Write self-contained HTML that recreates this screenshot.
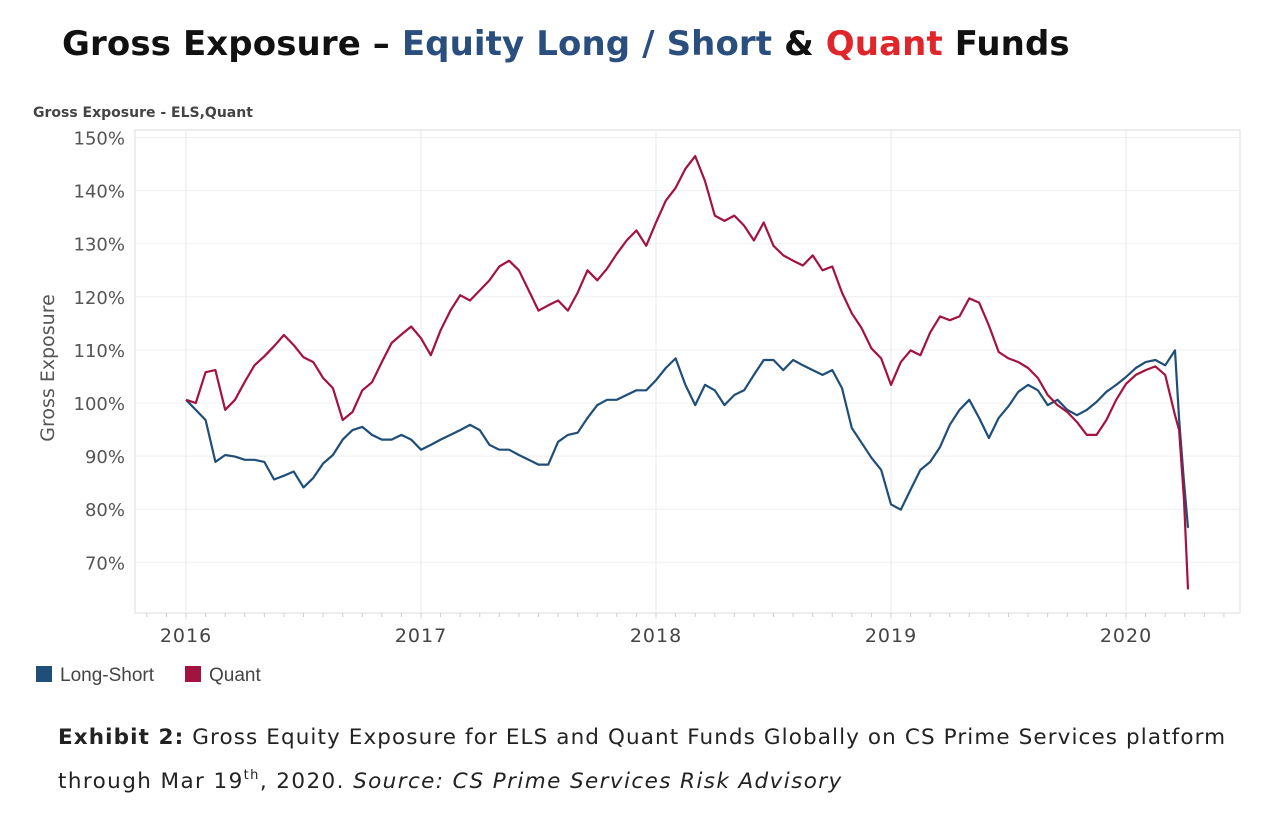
<!DOCTYPE html>
<html><head><meta charset="utf-8"><style>
body{margin:0;width:1280px;height:825px;background:#fff;font-family:"Liberation Sans",sans-serif;overflow:hidden}
</style></head><body>
<svg width="1280" height="825" xmlns="http://www.w3.org/2000/svg" font-family="Liberation Sans, sans-serif">
<text x="62" y="55" font-size="34" font-weight="bold" font-family="DejaVu Sans, sans-serif" style="letter-spacing:0.1px"><tspan fill="#111">Gross Exposure – </tspan><tspan fill="#2a4f7f">Equity Long / Short</tspan><tspan fill="#111"> &amp; </tspan><tspan fill="#e0262b">Quant</tspan><tspan fill="#111"> Funds</tspan></text>
<text x="33" y="117" font-size="14" font-weight="bold" fill="#444" font-family="DejaVu Sans, sans-serif">Gross Exposure - ELS,Quant</text>
<rect x="135" y="130" width="1105" height="483" fill="none" stroke="#ddd"/>
<g id="grid"></g>
<g id="ylab" font-size="18" fill="#555" text-anchor="end" font-family="DejaVu Sans, sans-serif"></g>
<g id="xlab" font-size="19" fill="#444" text-anchor="middle" font-family="DejaVu Sans, sans-serif" style="letter-spacing:1px"></g>
<text transform="translate(54,368) rotate(-90)" font-size="19" fill="#555" text-anchor="middle" font-family="DejaVu Sans, sans-serif">Gross Exposure</text>
<g id="lines"></g>
<rect x="36" y="666" width="16" height="16" fill="#1f4e79"/>
<text x="60" y="681" font-size="19" fill="#444">Long-Short</text>
<rect x="185" y="666" width="16" height="16" fill="#a4123f"/>
<text x="209" y="681" font-size="19" fill="#444">Quant</text>
<text x="58" y="744" font-size="21.5" fill="#222" font-family="DejaVu Sans, sans-serif" style="letter-spacing:1.1px"><tspan font-weight="bold">Exhibit 2:</tspan> Gross Equity Exposure for ELS and Quant Funds Globally on CS Prime Services platform</text>
<text x="58" y="788" font-size="21.5" fill="#222" font-family="DejaVu Sans, sans-serif" style="letter-spacing:1.4px">through Mar 19<tspan font-size="13" dy="-9">th</tspan><tspan dy="9">, 2020.  </tspan><tspan font-style="italic">Source: CS Prime Services Risk Advisory</tspan></text>
</svg>
<script>
const yTicks=[70,80,90,100,110,120,130,140,150];
const yTickLabels=["70%","80%","90%","100%","110%","120%","130%","140%","150%"];
const xTicks=[2016,2017,2018,2019,2020];
const xTickLabels=["2016","2017","2018","2019","2020"];
const quant=[100.6,100,105.8,106.2,98.7,100.6,104,107.1,108.8,110.7,112.8,110.9,108.6,107.7,104.7,102.8,96.8,98.3,102.4,103.9,107.7,111.3,112.9,114.4,112.2,109,113.7,117.4,120.3,119.3,121.2,123.1,125.7,126.8,125,121.2,117.4,118.4,119.3,117.4,120.8,125,123.1,125.3,128.1,130.6,132.5,129.6,134,138.1,140.5,144.1,146.5,141.8,135.3,134.3,135.3,133.4,130.6,134,129.6,127.8,126.8,125.9,127.8,125,125.7,120.8,116.9,114.1,110.3,108.4,103.4,107.7,109.9,109,113.3,116.3,115.6,116.3,119.7,118.9,114.6,109.6,108.4,107.7,106.6,104.7,101.5,99.6,98.3,96.4,94,94,96.8,100.6,103.6,105.3,106.2,106.9,105.3,97.7];
const quantTailDates=[2020.226,2020.247,2020.264];
const quantTail=[94.9,81.8,64.9];
const longShort=[100.6,98.7,96.8,88.9,90.2,89.9,89.3,89.3,88.9,85.6,86.3,87.1,84.1,85.9,88.6,90.2,93.1,94.9,95.5,94,93.1,93.1,94,93.1,91.2,92.1,93.1,94,94.9,95.9,94.9,92.1,91.2,91.2,90.2,89.3,88.4,88.4,92.7,94,94.4,97.2,99.6,100.6,100.6,101.5,102.4,102.4,104.3,106.6,108.4,103.4,99.6,103.4,102.4,99.6,101.5,102.4,105.3,108.1,108.1,106.2,108.1,107.1,106.2,105.3,106.2,102.8,95.3,92.5,89.7,87.4,80.9,79.9,83.7,87.4,88.9,91.7,95.9,98.7,100.6,97.2,93.4,97.2,99.4,102.1,103.4,102.4,99.6,100.6,98.7,97.7,98.7,100.2,102.1,103.4,104.9,106.6,107.7,108.1,107.1,109.9];
const longShortTailDates=[2020.226,2020.245,2020.264];
const longShortTail=[97,86,76.5];
const NS="http://www.w3.org/2000/svg";
function xs(yr){return 186+(yr-2016)*235;}
function ys(v){return 403-(v-100)*5.31;}
const grid=document.getElementById('grid'),yl=document.getElementById('ylab'),xl=document.getElementById('xlab'),lines=document.getElementById('lines');
yTicks.forEach((t,i)=>{
 const l=document.createElementNS(NS,'line');
 
 
 l.setAttribute('x1',135);l.setAttribute('x2',1240);l.setAttribute('y1',ys(t));l.setAttribute('y2',ys(t));l.setAttribute('stroke','#efefef');grid.appendChild(l);
 const tx=document.createElementNS(NS,'text');
 
 
 tx.setAttribute('x',125);tx.setAttribute('y',ys(t)+7);tx.textContent=yTickLabels[i];yl.appendChild(tx);
});
xTicks.forEach((t,i)=>{
 const l=document.createElementNS(NS,'line');
 
 
 l.setAttribute('x1',xs(t));l.setAttribute('x2',xs(t));l.setAttribute('y1',130);l.setAttribute('y2',620);l.setAttribute('stroke','#eaeaea');grid.appendChild(l);
 const tx=document.createElementNS(NS,'text');
 
 
 tx.setAttribute('x',xs(t));tx.setAttribute('y',642);tx.textContent=xTickLabels[i];xl.appendChild(tx);
});
for(let m=-2;m<54;m++){const x=xs(2016+m/12);if(x<137||x>1238)continue;
 const l=document.createElementNS(NS,'line');
 
 
 l.setAttribute('x1',x);l.setAttribute('x2',x);l.setAttribute('y1',613);l.setAttribute('y2',617);l.setAttribute('stroke','#ccc');grid.appendChild(l);}
function draw(vals,tailD,tailV,color,name){
 const pts=vals.map((v,i)=>[xs(2016+i/24),ys(v)]);
 tailD.forEach((d,i)=>pts.push([xs(d),ys(tailV[i])]));
 const p=document.createElementNS(NS,'polyline');
 
 
 p.setAttribute('points',pts.map(q=>q[0].toFixed(1)+','+q[1].toFixed(1)).join(' '));
 p.setAttribute('fill','none');p.setAttribute('stroke',color);p.setAttribute('stroke-width','2.2');p.setAttribute('stroke-linejoin','round');
 lines.appendChild(p);
}
draw(longShort,longShortTailDates,longShortTail,'#1f4e79','long-short-line');
draw(quant,quantTailDates,quantTail,'#a4123f','quant-line');
</script>
</body></html>
